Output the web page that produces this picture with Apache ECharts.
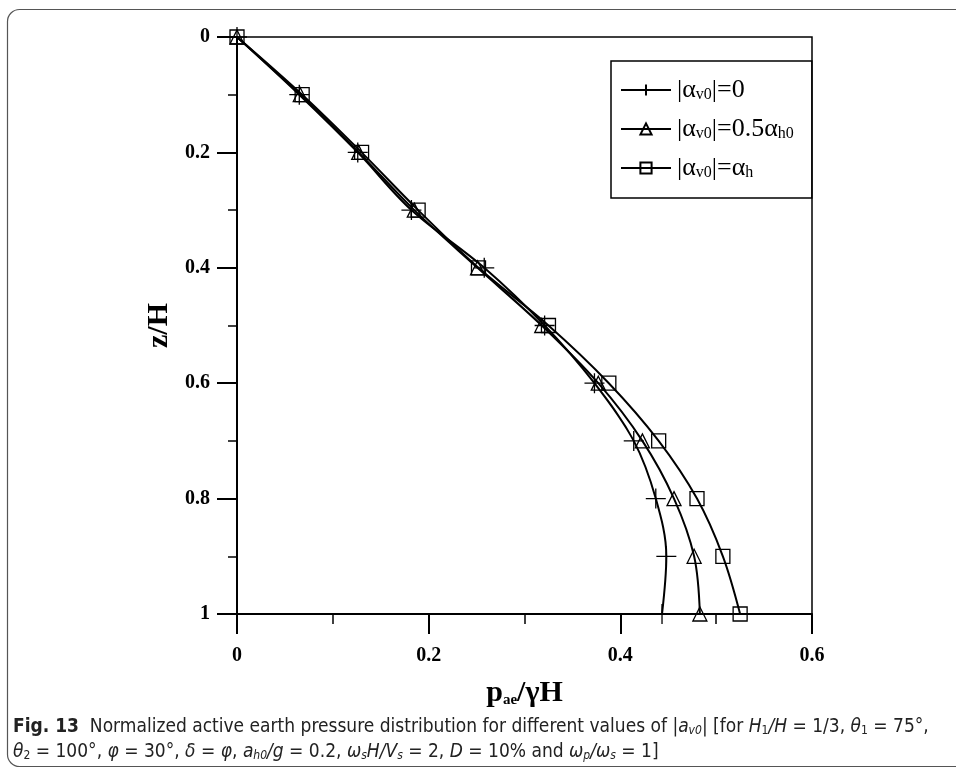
<!DOCTYPE html>
<html>
<head>
<meta charset="utf-8">
<script src="https://cdn.jsdelivr.net/npm/echarts@6/dist/echarts.min.js"></script>
<style>
  html, body { margin: 0; padding: 0; background: #fff; }
  #chart { width: 956px; height: 770px; }
</style>
</head>
<body>
<div id="chart"></div>
<script>
// Depth ratio z/H at which each curve is sampled
const depthRatio = [0, 0.1, 0.2, 0.3, 0.4, 0.5, 0.6, 0.7, 0.8, 0.9, 1.0];

// Normalized active earth pressure p_ae/(γH) for each vertical acceleration case
const pressureZero = [0, 0.065, 0.126, 0.182, 0.258, 0.321, 0.373, 0.414, 0.437, 0.448, 0.4435];
const pressureHalf = [0, 0.066, 0.127, 0.185, 0.251, 0.318, 0.377, 0.423, 0.456, 0.477, 0.483];
const pressureFull = [0, 0.068, 0.130, 0.189, 0.252, 0.325, 0.388, 0.440, 0.480, 0.507, 0.525];

const seriesNames = ['|αv0|=0', '|αv0|=0.5αh0', '|αv0|=αh'];
const legendRich = {
  '|αv0|=0': '{t||α}{s|v0}{t||=0}',
  '|αv0|=0.5αh0': '{t||α}{s|v0}{t||=0.5α}{s|h0}',
  '|αv0|=αh': '{t||α}{s|v0}{t||=α}{s|h}'
};

const xTicks = { min: 0, max: 0.6, interval: 0.2 };
const yTicks = { min: 0, max: 1, interval: 0.2 };

const serifBold = { fontFamily: 'Liberation Serif', fontWeight: 'bold', color: '#000' };
const captionFont = 'DejaVu Sans Condensed, Liberation Sans';

function pairs(xs) {
  return xs.map((x, i) => [x, depthRatio[i]]);
}

const plusPath = 'path://M0,10L20,10M10,0L10,20';

function makeSeries(name, values, symbol, size) {
  return {
    name: name,
    type: 'line',
    data: pairs(values),
    smooth: 0.35,
    symbol: symbol,
    symbolSize: size,
    showAllSymbol: true,
    lineStyle: { color: '#000', width: 2 },
    itemStyle: { color: 'transparent', borderColor: '#000', borderWidth: 1.3 },
    emphasis: { disabled: true },
    z: 3
  };
}

const chart = echarts.init(document.getElementById('chart'), null, { renderer: 'canvas' });

chart.setOption({
  animation: false,
  backgroundColor: '#fff',
  grid: {
    left: 237, top: 37, right: 144, bottom: 156,
    show: true, borderColor: '#000', borderWidth: 1.5, backgroundColor: 'transparent'
  },
  xAxis: {
    type: 'value',
    min: xTicks.min, max: xTicks.max, interval: xTicks.interval,
    name: '{p|p}{s|ae}{p|/γH}',
    nameLocation: 'middle',
    nameGap: 60,
    nameTextStyle: {
      rich: {
        p: Object.assign({ fontSize: 30, lineHeight: 34, verticalAlign: 'bottom' }, serifBold),
        s: Object.assign({ fontSize: 15, lineHeight: 14, verticalAlign: 'bottom' }, serifBold)
      }
    },
    axisLine: { show: true, onZero: false, lineStyle: { color: '#000', width: 2 } },
    axisTick: { show: true, length: 20, lineStyle: { color: '#000', width: 2 } },
    minorTick: { show: true, splitNumber: 2, length: 10, lineStyle: { color: '#000', width: 1.5 } },
    axisLabel: Object.assign({ fontSize: 20, margin: 32 }, serifBold),
    splitLine: { show: false }
  },
  yAxis: {
    type: 'value',
    inverse: true,
    min: yTicks.min, max: yTicks.max, interval: yTicks.interval,
    name: 'z/H',
    nameLocation: 'middle',
    nameRotate: 90,
    nameGap: 52,
    nameTextStyle: Object.assign({ fontSize: 30 }, serifBold),
    axisLine: { show: true, onZero: false, lineStyle: { color: '#000', width: 2 } },
    axisTick: { show: true, length: 20, lineStyle: { color: '#000', width: 2 } },
    minorTick: { show: true, splitNumber: 2, length: 9, lineStyle: { color: '#000', width: 1.5 } },
    axisLabel: Object.assign({ fontSize: 20, margin: 27 }, serifBold),
    splitLine: { show: false }
  },
  legend: {
    orient: 'vertical',
    left: 611, top: 61,
    padding: [16, 18, 17, 9],
    itemGap: 13,
    itemWidth: 50,
    itemHeight: 14,
    backgroundColor: '#fff',
    borderColor: '#000',
    borderWidth: 1.5,
    borderRadius: 0,
    selectedMode: false,
    data: seriesNames,
    formatter: name => legendRich[name],
    textStyle: {
      padding: [0, 0, 0, 1],
      rich: {
        t: { fontFamily: 'Liberation Serif', fontSize: 26, color: '#000', lineHeight: 26, verticalAlign: 'bottom' },
        s: { fontFamily: 'Liberation Serif', fontSize: 16, color: '#000', lineHeight: 12, verticalAlign: 'bottom' }
      }
    }
  },
  series: [
    makeSeries(seriesNames[0], pressureZero, plusPath, 20),
    makeSeries(seriesNames[1], pressureHalf, 'triangle', 14),
    makeSeries(seriesNames[2], pressureFull, 'rect', 14)
  ],
  graphic: [
    {
      type: 'rect',
      shape: { x: 7.5, y: 9.5, width: 1000, height: 757, r: 12 },
      style: { fill: 'none', stroke: '#555', lineWidth: 1.2 },
      silent: true, z: -1
    },
    {
      type: 'text',
      left: 13, top: 718,
      style: {
        text: '{b|Fig. 13}{n|  Normalized active earth pressure distribution for different values of |}{i|a}{si|v0}{n|| [for }{i|H}{sn|1}{i|/H}{n| = 1/3, }{i|θ}{sn|1}{n| = 75°,}\n' +
              '{i|θ}{sn|2}{n| = 100°, }{i|φ}{n| = 30°, }{i|δ}{n| = }{i|φ}{n|, }{i|a}{si|h0}{i|/g}{n| = 0.2, }{i|ω}{si|s}{i|H/V}{si|s}{n| = 2, }{i|D}{n| = 10% and }{i|ω}{si|p}{i|/ω}{si|s}{n| = 1]}',
        rich: {
          b: { fontFamily: captionFont, fontWeight: 'bold', fontSize: 19, lineHeight: 25, verticalAlign: 'bottom', fill: '#222' },
          n: { fontFamily: captionFont, fontSize: 19, lineHeight: 25, verticalAlign: 'bottom', fill: '#222' },
          i: { fontFamily: captionFont, fontStyle: 'italic', fontSize: 19, lineHeight: 25, verticalAlign: 'bottom', fill: '#222' },
          si: { fontFamily: captionFont, fontStyle: 'italic', fontSize: 12, lineHeight: 14, verticalAlign: 'bottom', fill: '#222' },
          sn: { fontFamily: captionFont, fontSize: 12, lineHeight: 14, verticalAlign: 'bottom', fill: '#222' }
        }
      },
      silent: true
    }
  ]
});
</script>
</body>
</html>
